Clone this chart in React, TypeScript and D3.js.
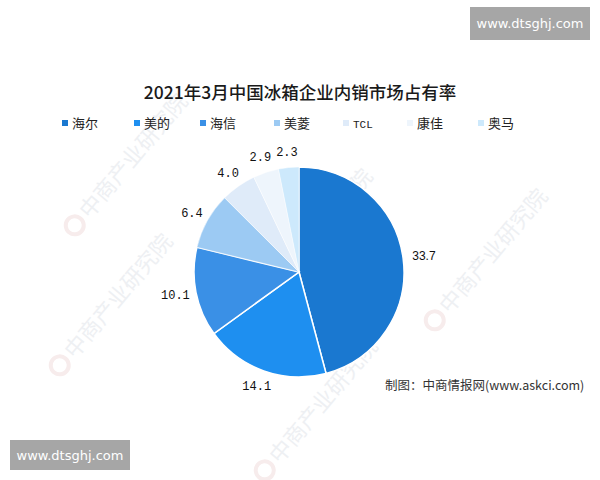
import React from "react";
import * as d3 from "d3";

const categories = ["海尔", "美的", "海信", "美菱", "TCL", "康佳", "奥马"];
const values = [33.7, 14.1, 10.1, 6.4, 4.0, 2.9, 2.3];
const labels = ["33.7", "14.1", "10.1", "6.4", "4.0", "2.9", "2.3"];
const colors = ["#1a78d0", "#1e8ff0", "#3a90e6", "#9ccaf3", "#dfebf9", "#eef5fc", "#cde9fc"];
const legendX = [65, 137, 203, 277, 346, 410, 481];
const title = "2021年3月中国冰箱企业内销市场占有率";
const source = "制图：中商情报网(www.askci.com)";
const watermark = "中商产业研究院";
const siteText = "www.dtsghj.com";

const W = 600;
const H = 480;
const cx = 299;
const cy = 272;
const R = 105;

export default function App() {
  const pie = d3.pie<number>().sort(null).value((d) => d)(values);
  const arc = d3.arc<d3.PieArcDatum<number>>().innerRadius(0).outerRadius(R);

  const wmPos = [
    [125, 300], [325, 235], [500, 255], [330, 405], [140, 160],
  ];

  return (
    <svg width={W} height={H} style={{ position: "absolute", left: 0, top: 0, background: "#fff" }}>
      <rect x={0} y={0} width={W} height={H} fill="#ffffff" />
      {/* watermarks */}
      <g fontFamily="'Noto Sans CJK SC', sans-serif" fontSize={22} fill="#eef0f3">
        {wmPos.map(([x, y], i) => (
          <g key={i} transform={`translate(${x},${y}) rotate(-50)`}>
            <circle cx={-92} cy={-8} r={9} fill="none" stroke="#f7ecec" strokeWidth={4} />
            <text x={-78} y={0}>{watermark}</text>
          </g>
        ))}
      </g>
      <text x={300} y={99} textAnchor="middle" fontFamily="'Noto Sans CJK SC', sans-serif" fontSize={17.5} fontWeight={500} fill="#1a1a1a">
        {title}
      </text>
      {categories.map((c, i) => (
        <g key={c}>
          <rect x={legendX[i] - 3} y={120} width={6} height={6} fill={colors[i]} />
          <text
            x={legendX[i] + 7}
            y={128}
            fontFamily={c === "TCL" ? "'Liberation Mono', monospace" : "'Noto Sans CJK SC', sans-serif"}
            fontSize={c === "TCL" ? 11 : 13}
            fill="#222"
          >
            {c}
          </text>
        </g>
      ))}
      <g transform={`translate(${cx},${cy})`}>
        {pie.map((p, i) => (
          <path key={i} d={arc(p) || ""} fill={colors[i]} stroke="#ffffff" strokeWidth={i < 3 ? 1.5 : 0.5} />
        ))}
        {pie.map((p, i) => {
          const a = (p.startAngle + p.endAngle) / 2;
          const s = Math.sin(a);
          const c = -Math.cos(a);
          const tw = labels[i].length * 6.5;
          const lx = (R + 8) * s + (tw / 2) * s;
          const ly = (R + 10) * c + 6 * c + 4;
          return (
            <text
              key={i}
              x={lx}
              y={ly}
              textAnchor="middle"
              fontFamily={i === 0 ? "'Liberation Sans', Arial, sans-serif" : "'Liberation Mono', monospace"}
              fontSize={12}
              fill="#111"
            >
              {labels[i]}
            </text>
          );
        })}
      </g>
      <text x={385} y={390} fontFamily="'Noto Sans CJK SC', sans-serif" fontSize={12.5} fill="#333">
        {source}
      </text>
      <rect x={470} y={7} width={120} height={33} fill="#a6a6a6" />
      <text x={530} y={28} textAnchor="middle" fontFamily="'DejaVu Sans', sans-serif" fontSize={13} fill="#fff">
        {siteText}
      </text>
      <rect x={10} y={440} width={120} height={30} fill="#a6a6a6" />
      <text x={70} y={460} textAnchor="middle" fontFamily="'DejaVu Sans', sans-serif" fontSize={13} fill="#fff">
        {siteText}
      </text>
    </svg>
  );
}
